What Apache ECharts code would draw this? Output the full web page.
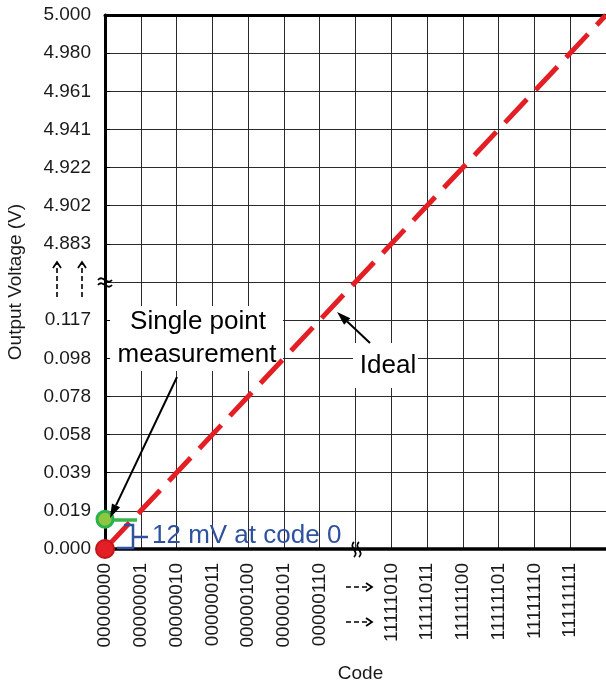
<!DOCTYPE html>
<html><head><meta charset="utf-8">
<script src="https://cdn.jsdelivr.net/npm/echarts@6/dist/echarts.min.js"></script>
<style>html,body{margin:0;padding:0;background:#fff}#c{width:606px;height:682px}</style>
</head><body><div id="c"></div>
<script>
// ---- data (index units on a broken axis) ----
const codeLabels = ['00000000','00000001','00000010','00000011','00000100','00000101','00000110','','11111010','11111011','11111100','11111101','11111110','11111111',''];
const voltLabels = ['0.000','0.019','0.039','0.058','0.078','0.098','0.117','','4.883','4.902','4.922','4.941','4.961','4.980','5.000'];
const idealLine = [[0,0],[14,14]];
const zeroCodePoint = [[0,0]];
const measuredPoint = [[0,0.78]];

const FF = '"Liberation Sans", Arial, sans-serif';
const TXT = '#1a1a1a';

function arrow(x1,y1,x2,y2,w,head,hw){
  const a=Math.atan2(y2-y1,x2-x1);
  const bx=x2-head*Math.cos(a), by=y2-head*Math.sin(a);
  return [
    {type:'line', z:20, shape:{x1,y1,x2:bx,y2:by}, style:{stroke:'#000',lineWidth:w}},
    {type:'polygon', z:20, shape:{points:[[x2,y2],[bx+hw*Math.sin(a),by-hw*Math.cos(a)],[bx-hw*Math.sin(a),by+hw*Math.cos(a)]]}, style:{fill:'#000'}}
  ];
}
function dashArrow(x1,y1,x2,y2){
  const a=Math.atan2(y2-y1,x2-x1), h=6, s=4;
  const bx=x2-h*Math.cos(a), by=y2-h*Math.sin(a);
  return [
    {type:'line', z:20, shape:{x1,y1,x2:x2-1*Math.cos(a),y2:y2-1*Math.sin(a)}, style:{stroke:'#000',lineWidth:1.6,lineDash:[5,3]}},
    {type:'polyline', z:20, shape:{points:[[bx+s*Math.sin(a),by-s*Math.cos(a)],[x2,y2],[bx-s*Math.sin(a),by+s*Math.cos(a)]]}, style:{stroke:'#000',lineWidth:1.8,fill:null}}
  ];
}
const graphics = [
  {type:'rect', z:1, shape:{x:110,y:306,width:173,height:65}, style:{fill:'#fff'}},
  {type:'rect', z:1, shape:{x:353,y:343,width:65,height:45}, style:{fill:'#fff'}},
  {type:'text', z:20, x:198, y:322, style:{text:'Single point', font:'26px '+FF, fill:'#000', align:'center', verticalAlign:'middle'}},
  {type:'text', z:20, x:197, y:355, style:{text:'measurement', font:'26px '+FF, fill:'#000', align:'center', verticalAlign:'middle'}},
  {type:'text', z:20, x:388, y:366, style:{text:'Ideal', font:'26px '+FF, fill:'#000', align:'center', verticalAlign:'middle'}},
  {type:'text', z:20, x:152, y:536, style:{text:'12 mV at code 0', font:'26px '+FF, fill:'#2f52a0', align:'left', verticalAlign:'middle'}},
  {type:'line', z:1, shape:{x1:108,y1:520,x2:137,y2:520}, style:{stroke:'#39b54a',lineWidth:3.5}},
  {type:'polyline', z:4, shape:{points:[[124,525],[133,525],[133,548],[117,548]]}, style:{stroke:'#2f52a0',lineWidth:2.5,fill:null}},
  {type:'line', z:4, shape:{x1:133,y1:537,x2:148,y2:537}, style:{stroke:'#2f52a0',lineWidth:2.5}},
  ...arrow(177,377,110,518,2,14,4.5),
  ...arrow(370,343,337,312,2,14,4.5),
  ...dashArrow(57,297,57,262),
  ...dashArrow(82,297,82,262),
  ...dashArrow(346,587,372,587),
  ...dashArrow(346,622,372,622),
  {type:'bezierCurve', z:20, shape:{x1:98,y1:280,x2:112,y2:280,cpx1:103,cpy1:274,cpx2:107,cpy2:286}, style:{stroke:'#000',lineWidth:1.8,fill:null}},
  {type:'bezierCurve', z:20, shape:{x1:98,y1:285,x2:112,y2:285,cpx1:103,cpy1:279,cpx2:107,cpy2:291}, style:{stroke:'#000',lineWidth:1.8,fill:null}},
  {type:'bezierCurve', z:20, shape:{x1:354,y1:542,x2:354,y2:557,cpx1:348,cpy1:547,cpx2:360,cpy2:552}, style:{stroke:'#000',lineWidth:1.8,fill:null}},
  {type:'bezierCurve', z:20, shape:{x1:359,y1:542,x2:359,y2:557,cpx1:353,cpy1:547,cpx2:365,cpy2:552}, style:{stroke:'#000',lineWidth:1.8,fill:null}}
];

const chart = echarts.init(document.getElementById('c'), null, {renderer:'canvas'});
chart.setOption({
  animation:false,
  backgroundColor:'#fff',
  grid:{left:105, top:15, right:0, bottom:133, containLabel:false, outerBoundsMode:'none'},
  xAxis:[{
    type:'value', min:0, max:14, interval:1, position:'bottom',
    axisLine:{show:true, onZero:false, lineStyle:{color:'#000', width:3.5}},
    axisTick:{show:false},
    splitLine:{show:true, lineStyle:{color:'#2a2a2a', width:1}},
    axisLabel:{formatter:v=>codeLabels[Math.round(v)]||'', rotate:90, margin:14, fontSize:19, color:TXT, fontFamily:FF, showMinLabel:true, showMaxLabel:true},
    name:'Code', nameLocation:'middle', nameGap:115,
    nameTextStyle:{fontSize:19, color:TXT, fontFamily:FF, padding:[0,0,0,10]}
  },{
    type:'value', min:0, max:14, interval:1, position:'top',
    axisLine:{show:true, onZero:false, lineStyle:{color:'#000', width:3}},
    axisTick:{show:false}, axisLabel:{show:false}, splitLine:{show:false}
  }],
  yAxis:{
    type:'value', min:0, max:14, interval:1,
    axisLine:{show:true, onZero:false, lineStyle:{color:'#000', width:3}},
    axisTick:{show:true, inside:true, length:5, lineStyle:{color:'#000', width:1}},
    splitLine:{show:true, lineStyle:{color:'#2a2a2a', width:1}},
    axisLabel:{formatter:v=>voltLabels[Math.round(v)]||'', margin:14, fontSize:19, color:TXT, fontFamily:FF, showMinLabel:true, showMaxLabel:true},
    name:'Output Voltage (V)', nameLocation:'middle', nameGap:80,
    nameTextStyle:{fontSize:19, color:TXT, fontFamily:FF}
  },
  series:[
    {type:'line', data:idealLine, symbol:'none', z:3, silent:true,
     lineStyle:{color:'#e31e24', width:5, type:[32,12.67], dashOffset:40.77, cap:'butt'}},
    {type:'scatter', data:zeroCodePoint, symbolSize:18, clip:false, z:5, silent:true,
     itemStyle:{color:'#e31e24', borderColor:'#c1161d', borderWidth:2, opacity:1}},
    {type:'scatter', data:measuredPoint, symbolSize:16, clip:false, z:5, silent:true,
     itemStyle:{color:'#8dc63f', borderColor:'#2bb24c', borderWidth:3, opacity:1}}
  ],
  graphic:graphics
});
</script></body></html>
